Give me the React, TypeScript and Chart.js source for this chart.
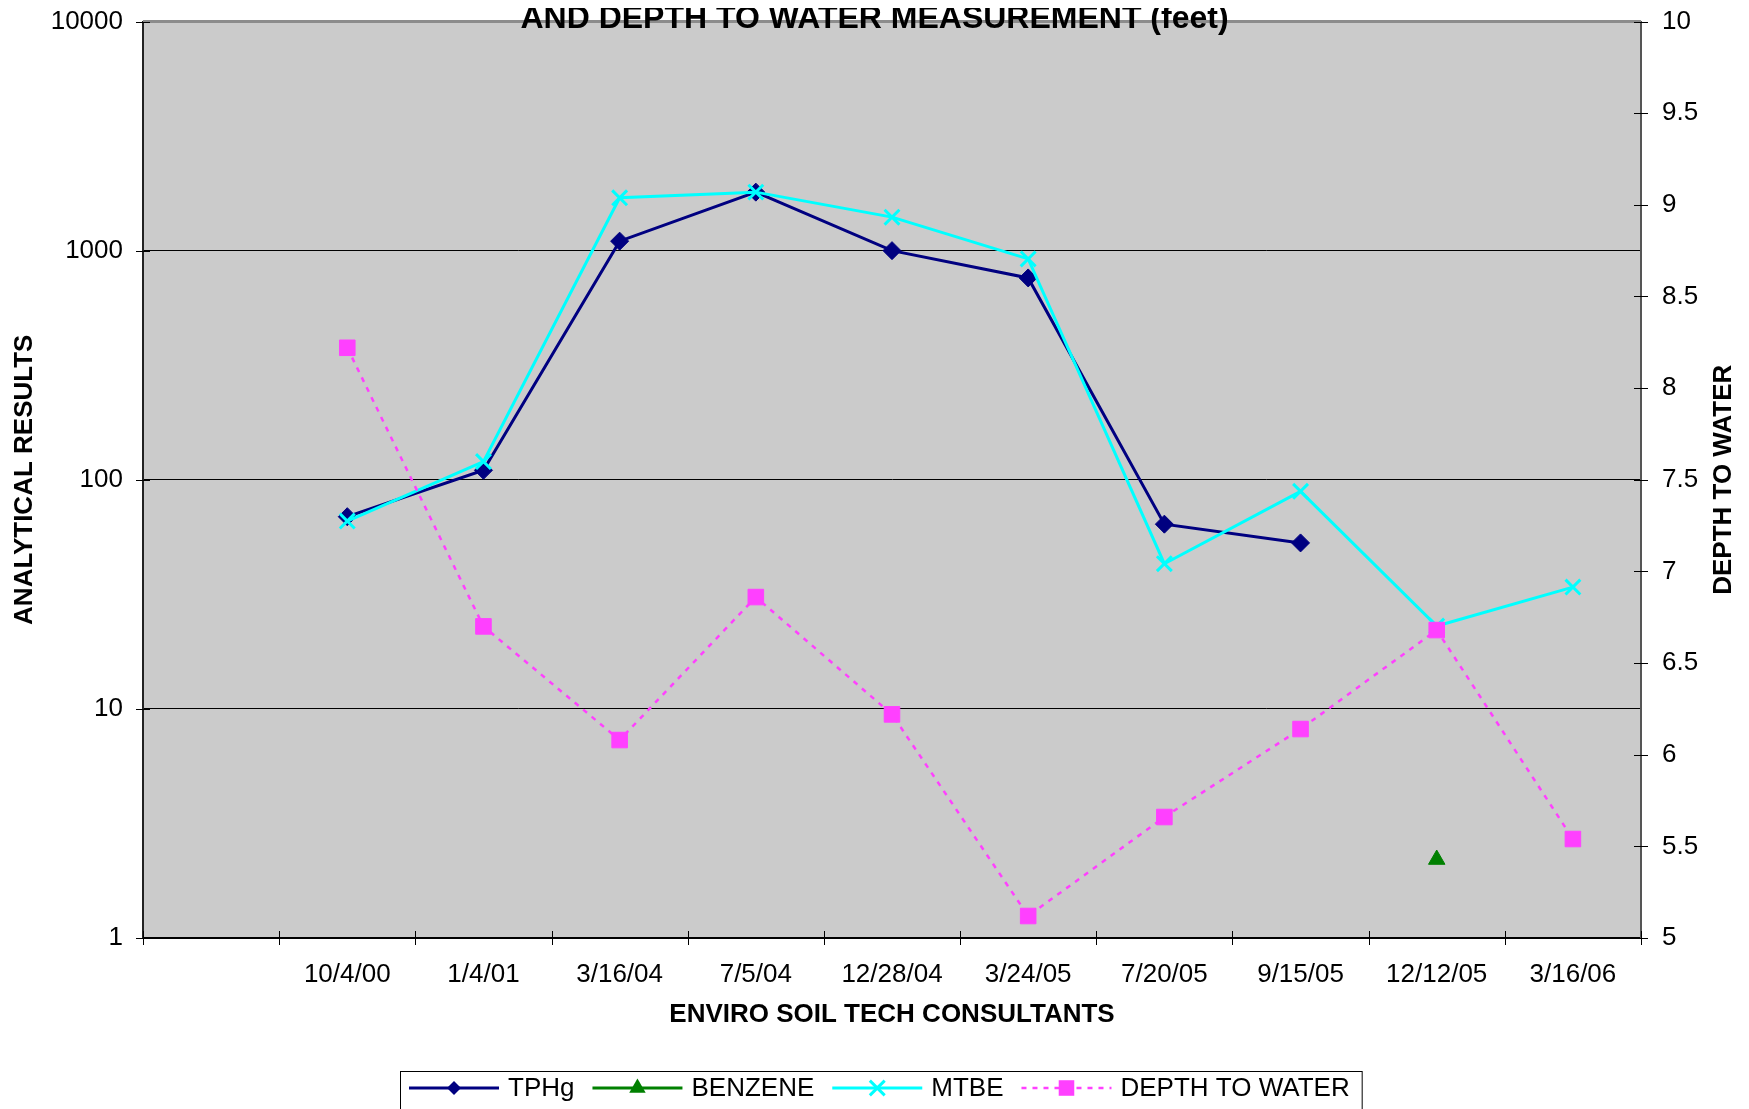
import React, { useEffect, useRef } from 'react';
import { Chart, registerables } from 'chart.js';

Chart.register(...registerables);

// ---------- data ----------
const categories = ['', '10/4/00', '1/4/01', '3/16/04', '7/5/04', '12/28/04', '3/24/05', '7/20/05', '9/15/05', '12/12/05', '3/16/06'];
const tphg = [null, 69, 110, 1100, 1800, 1000, 760, 64, 53, null, null];
const benzene = [null, null, null, null, null, null, null, null, null, 2.2, null];
const mtbe = [null, 66, 120, 1700, 1800, 1400, 920, 43, 89, 23, 34];
const depthToWater = [null, 8.22, 6.7, 6.08, 6.86, 6.22, 5.12, 5.66, 6.14, 6.68, 5.54];
const leftTicks = [1, 10, 100, 1000, 10000];
const leftGridValues = [10, 100, 1000];
const rightMin = 5;
const rightMax = 10;
const rightStep = 0.5;

const chartTitle = 'AND DEPTH TO WATER MEASUREMENT (feet)';
const xTitle = 'ENVIRO SOIL TECH CONSULTANTS';
const yTitle = 'ANALYTICAL RESULTS';
const y1Title = 'DEPTH TO WATER';

// ---------- styles ----------
const W = 1733;
const H = 1101;
const FONT = '"Liberation Sans", Arial, sans-serif';
const PLOT_BG = '#CBCBCB';

const seriesStyles = [
  { label: 'TPHg', color: '#000080', point: 'rectRot', radius: 9, legendRadius: 7, width: 3, dash: [] as number[] },
  { label: 'BENZENE', color: '#008000', point: 'triangle', radius: 9.5, legendRadius: 9.5, width: 3, dash: [] as number[] },
  { label: 'MTBE', color: '#00FFFF', point: 'crossRot', radius: 10.5, legendRadius: 10.5, width: 3, dash: [] as number[] },
  { label: 'DEPTH TO WATER', color: '#FF40FF', point: 'rect', radius: 11, legendRadius: 11, width: 2.5, dash: [5, 6] },
];

function drawMarker(ctx: CanvasRenderingContext2D, style: string, x: number, y: number, r: number, color: string) {
  ctx.save();
  ctx.fillStyle = color;
  ctx.strokeStyle = color;
  ctx.lineWidth = 3;
  ctx.setLineDash([]);
  ctx.beginPath();
  if (style === 'rectRot') {
    ctx.moveTo(x, y - r);
    ctx.lineTo(x + r, y);
    ctx.lineTo(x, y + r);
    ctx.lineTo(x - r, y);
    ctx.closePath();
    ctx.fill();
  } else if (style === 'triangle') {
    const a = (Math.PI * 2) / 3;
    ctx.moveTo(x, y - r);
    ctx.lineTo(x + Math.sin(a) * r, y - Math.cos(a) * r);
    ctx.lineTo(x - Math.sin(a) * r, y - Math.cos(a) * r);
    ctx.closePath();
    ctx.fill();
  } else if (style === 'crossRot') {
    const d = r * Math.SQRT1_2;
    ctx.moveTo(x - d, y - d);
    ctx.lineTo(x + d, y + d);
    ctx.moveTo(x + d, y - d);
    ctx.lineTo(x - d, y + d);
    ctx.stroke();
  } else {
    const s = r * Math.SQRT1_2;
    ctx.fillRect(x - s, y - s, 2 * s, 2 * s);
  }
  ctx.restore();
}

const decorPlugin = {
  id: 'decor',
  beforeDraw(chart: any) {
    const { ctx, chartArea: a } = chart;
    ctx.save();
    ctx.fillStyle = PLOT_BG;
    ctx.fillRect(a.left, a.top, a.right - a.left, a.bottom - a.top);
    ctx.restore();
  },
  afterDraw(chart: any) {
    const { ctx, chartArea: a } = chart;
    const xs = chart.scales.x;
    const ys = chart.scales.y;
    const y1 = chart.scales.y1;
    ctx.save();

    // top border
    ctx.strokeStyle = '#8C8C8C';
    ctx.lineWidth = 3;
    ctx.beginPath();
    ctx.moveTo(a.left, a.top);
    ctx.lineTo(a.right, a.top);
    ctx.stroke();

    // tick marks (cross style)
    const T = 7;
    ctx.lineWidth = 1;
    ctx.strokeStyle = '#000';
    ctx.beginPath();
    const n = categories.length;
    const step = xs.getPixelForValue(1) - xs.getPixelForValue(0);
    const x0 = xs.getPixelForValue(0) - step / 2;
    for (let i = 0; i <= n; i++) {
      const px = Math.round(x0 + i * step) + 0.5;
      ctx.moveTo(px, a.bottom - T);
      ctx.lineTo(px, a.bottom + T);
    }
    for (const v of leftTicks) {
      const py = Math.round(ys.getPixelForValue(v)) + 0.5;
      ctx.moveTo(a.left - T, py);
      ctx.lineTo(a.left + T, py);
    }
    for (let v = rightMin; v <= rightMax + 1e-9; v += rightStep) {
      const py = Math.round(y1.getPixelForValue(v)) + 0.5;
      ctx.moveTo(a.right - T, py);
      ctx.lineTo(a.right + T, py);
    }
    ctx.stroke();

    // titles
    ctx.fillStyle = '#000';
    ctx.textAlign = 'center';
    ctx.font = `bold 32px ${FONT}`;
    ctx.textBaseline = 'alphabetic';
    ctx.fillText(chartTitle, W / 2, 20);

    ctx.font = `bold 26px ${FONT}`;
    ctx.textBaseline = 'middle';
    ctx.fillText(xTitle, (a.left + a.right) / 2, 1007);

    const cy = (a.top + a.bottom) / 2;
    ctx.save();
    ctx.translate(17, cy);
    ctx.rotate(-Math.PI / 2);
    ctx.fillText(yTitle, 0, 0);
    ctx.restore();

    ctx.save();
    ctx.translate(1716, cy);
    ctx.rotate(-Math.PI / 2);
    ctx.fillText(y1Title, 0, 0);
    ctx.restore();

    // legend
    const boxLeft = 392;
    const boxTop = 1063;
    const ly = 1080;
    ctx.font = `26px ${FONT}`;
    ctx.textAlign = 'left';
    ctx.textBaseline = 'middle';
    let lx = boxLeft + 9;
    for (const s of seriesStyles) {
      ctx.strokeStyle = s.color;
      ctx.lineWidth = s.width;
      ctx.setLineDash(s.dash);
      ctx.beginPath();
      ctx.moveTo(lx, ly);
      ctx.lineTo(lx + 90, ly);
      ctx.stroke();
      ctx.setLineDash([]);
      drawMarker(ctx, s.point, lx + 45, ly, s.legendRadius, s.color);
      lx += 99;
      ctx.fillStyle = '#000';
      ctx.fillText(s.label, lx, ly + 1);
      lx += ctx.measureText(s.label).width + 18;
    }
    const boxRight = lx - 18 + 12;
    ctx.strokeStyle = '#000';
    ctx.lineWidth = 1;
    ctx.setLineDash([]);
    ctx.strokeRect(boxLeft + 0.5, boxTop + 0.5, boxRight - boxLeft, H);

    ctx.restore();
  },
};

export default function App() {
  const ref = useRef<HTMLCanvasElement | null>(null);

  useEffect(() => {
    document.body.style.overflow = 'hidden';
    document.documentElement.style.overflow = 'hidden';
    const canvas = ref.current;
    if (!canvas) return;
    const seriesData = [tphg, benzene, mtbe, depthToWater];
    const orders = [2, 3, 1, 0];
    const datasets = seriesStyles.map((s, i) => ({
      label: s.label,
      data: seriesData[i],
      yAxisID: i === 3 ? 'y1' : 'y',
      borderColor: s.color,
      backgroundColor: s.color,
      borderWidth: s.width,
      borderDash: s.dash,
      pointStyle: s.point,
      pointRadius: s.radius,
      pointBackgroundColor: s.color,
      pointBorderColor: s.color,
      pointBorderWidth: s.point === 'crossRot' ? 3 : 1,
      tension: 0,
      spanGaps: false,
      order: orders[i],
    }));

    const zeroPad = (scale: any) => {
      scale.paddingTop = 0;
      scale.paddingBottom = 0;
      scale.paddingLeft = 0;
      scale.paddingRight = 0;
    };

    const chart = new Chart(canvas, {
      type: 'line',
      data: { labels: categories, datasets: datasets as any },
      plugins: [decorPlugin],
      options: {
        responsive: false,
        animation: false,
        layout: { padding: { top: 12, left: 0, right: 0, bottom: 0 } },
        plugins: {
          legend: { display: false },
          title: { display: false },
          tooltip: { enabled: false },
        },
        scales: {
          x: {
            type: 'category',
            offset: true,
            grid: { display: false, offset: true, drawTicks: false },
            border: { display: true, color: '#000', width: 2 },
            ticks: {
              autoSkip: false,
              maxRotation: 0,
              minRotation: 0,
              padding: 21,
              color: '#000',
              font: { family: FONT, size: 26 },
            },
            afterFit: (scale: any) => {
              scale.height = 171;
              zeroPad(scale);
            },
          },
          y: {
            type: 'logarithmic',
            position: 'left',
            min: 1,
            max: 10000,
            grid: {
              drawTicks: false,
              color: (ctx: any) => (ctx.tick && leftGridValues.includes(ctx.tick.value) ? '#000' : 'rgba(0,0,0,0)'),
              lineWidth: 1,
            },
            border: { display: true, color: '#222', width: 2 },
            afterBuildTicks: (scale: any) => {
              scale.ticks = leftTicks.map((v) => ({ value: v }));
            },
            ticks: {
              padding: 20,
              color: '#000',
              font: { family: FONT, size: 26 },
              callback: (v: any) => String(v),
            },
            afterFit: (scale: any) => {
              scale.width = 135;
              zeroPad(scale);
            },
          },
          y1: {
            type: 'linear',
            position: 'right',
            min: rightMin,
            max: rightMax,
            grid: { display: false, drawOnChartArea: false, drawTicks: false },
            border: { display: true, color: '#555', width: 2 },
            ticks: {
              stepSize: rightStep,
              padding: 21,
              color: '#000',
              font: { family: FONT, size: 26 },
              callback: (v: any) => String(v),
            },
            afterFit: (scale: any) => {
              scale.width = W - 1633;
              zeroPad(scale);
            },
          },
        },
      } as any,
    });
    return () => chart.destroy();
  }, []);

  return (
    <div style={{ width: W, height: H }}>
      <canvas ref={ref} width={W} height={H} style={{ display: 'block', width: W, height: H }} />
    </div>
  );
}
